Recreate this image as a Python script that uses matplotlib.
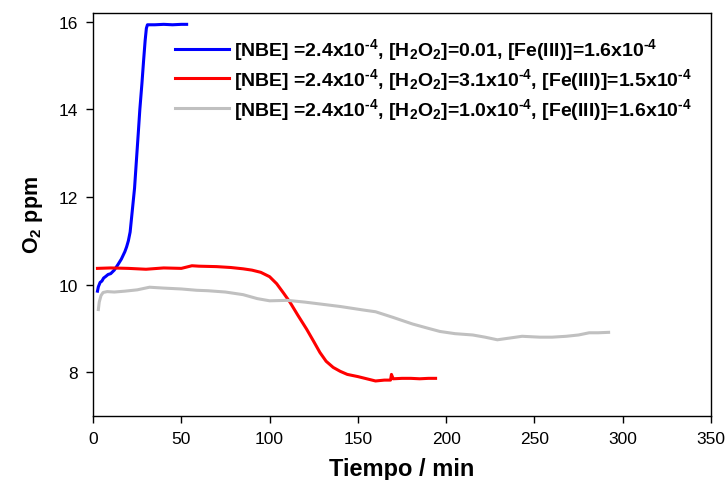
import numpy as np
import matplotlib
matplotlib.use("Agg")
import matplotlib.pyplot as plt

plt.rcParams['font.family'] = ['Liberation Sans', 'DejaVu Sans']
plt.rcParams['mathtext.fontset'] = 'custom'
plt.rcParams['mathtext.rm'] = 'Liberation Sans:bold'
plt.rcParams['mathtext.it'] = 'Liberation Sans:bold'
plt.rcParams['mathtext.bf'] = 'Liberation Sans:bold'

# blue: [H2O2]=0.01
t_blue = [2.5, 3, 4, 5, 6, 7, 8.5, 10, 12, 14, 16, 18, 19, 20, 21, 21.5, 22.5, 23.5, 24.5, 25.6, 26.5, 27.7, 28.6, 29.5, 30.2, 30.8, 35, 40, 45, 50, 53]
o2_blue = [9.85, 9.95, 10.05, 10.08, 10.15, 10.18, 10.23, 10.25, 10.33, 10.45, 10.58, 10.75, 10.86, 11.0, 11.2, 11.4, 11.8, 12.2, 12.8, 13.45, 14.0, 14.6, 15.1, 15.57, 15.85, 15.93, 15.93, 15.94, 15.93, 15.94, 15.94]

# red: [H2O2]=3.1e-4
t_red = [2.5, 10, 20, 30, 40, 50, 56, 60, 70, 78, 85, 90, 95, 100, 104, 108, 111.5, 116, 121, 125, 128.5, 132, 136, 140, 144, 150, 155, 160, 165, 168.5, 169, 170, 175, 180, 185, 190, 194]
o2_red = [10.37, 10.38, 10.37, 10.35, 10.38, 10.37, 10.43, 10.42, 10.41, 10.39, 10.36, 10.33, 10.28, 10.18, 10.02, 9.8, 9.6, 9.3, 8.98, 8.7, 8.45, 8.25, 8.11, 8.02, 7.95, 7.9, 7.85, 7.8, 7.82, 7.82, 7.95, 7.85, 7.86, 7.86, 7.85, 7.86, 7.86]

# gray: [H2O2]=1.0e-4
t_gray = [3, 3.5, 4.5, 5.7, 8, 12, 18, 25, 32, 40, 50, 58.7, 65, 75, 85, 93, 100, 110, 120, 130, 140, 153, 160, 170, 181, 190, 196.5, 205, 215, 222, 229, 236, 243, 253, 260, 268, 275, 281, 286, 292]
o2_gray = [9.43, 9.6, 9.75, 9.82, 9.84, 9.83, 9.85, 9.88, 9.94, 9.92, 9.9, 9.87, 9.86, 9.83, 9.77, 9.68, 9.63, 9.64, 9.6, 9.55, 9.5, 9.42, 9.38, 9.25, 9.1, 9.0, 8.93, 8.88, 8.85, 8.8, 8.74, 8.78, 8.82, 8.8, 8.8, 8.82, 8.85, 8.9, 8.9, 8.91]

labels = [
    r"[NBE] =2.4x10$^{\text{-4}}$, [H$_2$O$_2$]=0.01, [Fe(III)]=1.6x10$^{\text{-4}}$",
    r"[NBE] =2.4x10$^{\text{-4}}$, [H$_2$O$_2$]=3.1x10$^{\text{-4}}$, [Fe(III)]=1.5x10$^{\text{-4}}$",
    r"[NBE] =2.4x10$^{\text{-4}}$, [H$_2$O$_2$]=1.0x10$^{\text{-4}}$, [Fe(III)]=1.6x10$^{\text{-4}}$",
]

fig = plt.figure(figsize=(7.27, 4.81), dpi=100)
ax = fig.add_axes([0.128, 0.133, 0.850, 0.838])

ax.plot(t_blue, o2_blue, color='#0000ff', lw=2.2, label=labels[0])
ax.plot(t_red, o2_red, color='#ff0000', lw=2.2, label=labels[1])
ax.plot(t_gray, o2_gray, color='#c0c0c0', lw=2.2, label=labels[2])

ax.set_xlim(0, 350)
ax.set_ylim(7.0, 16.2)
ax.set_xticks(np.arange(0, 351, 50))
ax.set_yticks([8, 10, 12, 14, 16])
ax.tick_params(direction='out', labelsize=12.5, length=5, width=1, pad=6)
for s in ax.spines.values():
    s.set_linewidth(1)

ax.set_xlabel("Tiempo / min", fontsize=17, fontweight='bold', labelpad=8)
ax.set_ylabel(r"O$_2$ ppm", fontsize=15.5, fontweight='bold', labelpad=10)

leg = ax.legend(loc='upper left', bbox_to_anchor=(0.105, 0.985), frameon=False,
                prop={'weight': 'bold', 'size': 14}, handlelength=2.75,
                handletextpad=0.25, labelspacing=0.2)

fig.savefig("out.png", dpi=100)
